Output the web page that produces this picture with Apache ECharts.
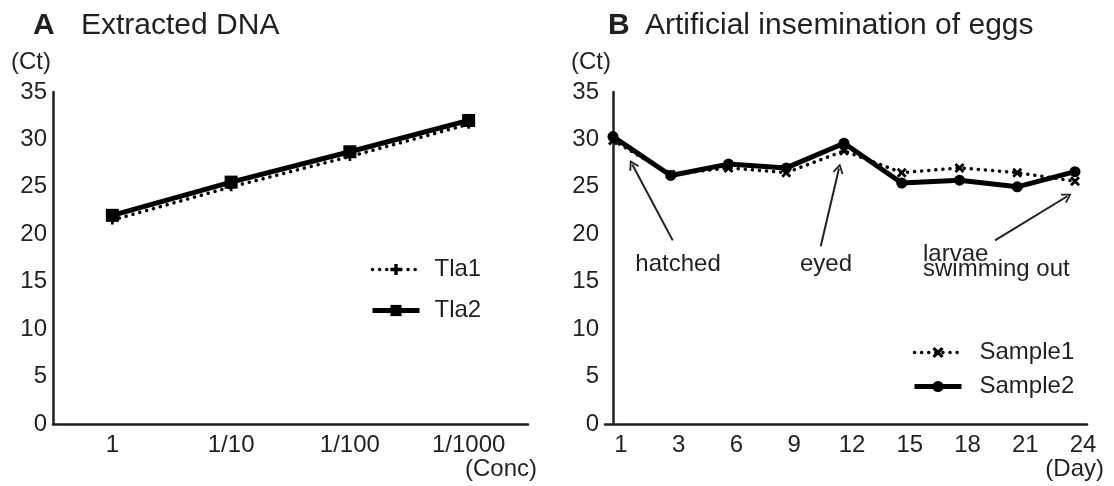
<!DOCTYPE html>
<html>
<head>
<meta charset="utf-8">
<script src="https://cdn.jsdelivr.net/npm/echarts@6/dist/echarts.min.js"></script>
<style>
html,body{margin:0;padding:0;background:#fff;}
#chart{width:1114px;height:486px;}
</style>
</head>
<body>
<div id="chart"></div>
<script>
// ---- data ----
const concLabels = ['1', '1/10', '1/100', '1/1000'];
const tla1 = [21.5, 25.0, 28.2, 31.6];
const tla2 = [22.0, 25.5, 28.7, 32.0];
const dayLabels = [1, 3, 6, 9, 12, 15, 18, 21, 24];
const sample1 = [29.9, 26.3, 27.0, 26.5, 28.8, 26.5, 27.0, 26.5, 25.6];
const sample2 = [30.3, 26.2, 27.4, 27.0, 29.6, 25.4, 25.7, 25.0, 26.6];
const ctTicks = [0, 5, 10, 15, 20, 25, 30, 35];
// annotation arrows: [tail, head] in (day index, Ct)
const arrows = [
  [[1.034, 19.36], [0.334, 27.36]],
  [[3.597, 18.73], [3.913, 26.94]],
  [[6.615, 19.36], [7.867, 24.01]]
];
const notes = [
  { name: 'hatched', coord: [1.126, 16.8], align: 'center' },
  { name: 'eyed', coord: [3.688, 16.8], align: 'center' },
  { name: 'larvae\nswimming out', coord: [5.368, 17.1], align: 'left' }
];

const TXT = '#231f20';
const FONT = '"Liberation Sans", Arial, Helvetica, sans-serif';
const FS = 24;
const chevron = 'path://M5,0 L10,9 L8.5,9.9 L5,3.3 L1.5,9.9 L0,9 Z';
const xMark = 'path://M0,2 L2,0 L5,3 L8,0 L10,2 L7,5 L10,8 L8,10 L5,7 L2,10 L0,8 L3,5 Z';
const plusMark = 'path://M3.5,0 H6.5 V3.5 H10 V6.5 H6.5 V10 H3.5 V6.5 H0 V3.5 H3.5 Z';

const chart = echarts.init(document.getElementById('chart'), null, { renderer: 'canvas' });

const yAxisCommon = {
  type: 'value', min: ctTicks[0], max: ctTicks[ctTicks.length - 1], interval: 5,
  name: '(Ct)', nameLocation: 'end', nameGap: 18,
  nameTextStyle: { color: TXT, fontSize: FS, fontFamily: FONT, align: 'right', padding: [0, 2, 0, 0] },
  axisLine: { show: true, lineStyle: { color: TXT, width: 2.5 } },
  axisTick: { show: false },
  splitLine: { show: false },
  axisLabel: { color: TXT, fontSize: FS, fontFamily: FONT, margin: 6 }
};

const legendCommon = {
  orient: 'vertical', padding: 0, itemWidth: 47, itemHeight: 14,
  lineStyle: { width: 'inherit', type: 'inherit', cap: 'inherit' }
};

const option = {
  animation: false,
  backgroundColor: '#fff',
  textStyle: { fontFamily: FONT },
  title: [
    { text: 'A', left: 28, top: 6, textStyle: { fontSize: 30, fontWeight: 'bold', color: TXT, fontFamily: FONT } },
    { text: 'Extracted DNA', left: 76, top: 6, textStyle: { fontSize: 30, fontWeight: 'normal', color: TXT, fontFamily: FONT } },
    { text: 'B', left: 603, top: 6, textStyle: { fontSize: 30, fontWeight: 'bold', color: TXT, fontFamily: FONT } },
    { text: 'Artificial insemination of eggs', left: 640, top: 6, textStyle: { fontSize: 30, fontWeight: 'normal', color: TXT, fontFamily: FONT } }
  ],
  grid: [
    { left: 53, right: 586, top: 92, bottom: 62 },
    { left: 605, right: 27, top: 92, bottom: 62 }
  ],
  xAxis: [
    {
      gridIndex: 0, type: 'category', data: concLabels, boundaryGap: true,
      name: '(Conc)', nameLocation: 'end', nameGap: 9,
      nameTextStyle: { color: TXT, fontSize: FS, fontFamily: FONT, align: 'right', verticalAlign: 'top', padding: [33, 0, 0, 0] },
      axisLine: { show: true, lineStyle: { color: TXT, width: 2.5 } },
      axisTick: { show: false },
      axisLabel: { color: TXT, fontSize: FS, fontFamily: FONT, margin: 9 }
    },
    {
      gridIndex: 1, type: 'value', min: -0.1385, max: 8.2078,
      name: '(Day)', nameLocation: 'end', nameGap: 17,
      nameTextStyle: { color: TXT, fontSize: FS, fontFamily: FONT, align: 'right', verticalAlign: 'top', padding: [33, 0, 0, 0] },
      axisLine: { show: true, onZero: false, lineStyle: { color: TXT, width: 2.5 } },
      axisTick: { show: false },
      splitLine: { show: false },
      axisLabel: {
        color: TXT, fontSize: FS, fontFamily: FONT, margin: 9,
        customValues: dayLabels.map((d, i) => i),
        formatter: v => dayLabels[Math.round(v)],
        padding: [0, 0, 0, 16]
      }
    }
  ],
  yAxis: [
    Object.assign({ gridIndex: 0 }, yAxisCommon),
    Object.assign({ gridIndex: 1 }, yAxisCommon)
  ],
  legend: [
    Object.assign({
      data: ['Tla1', 'Tla2'], left: 370, top: 257, itemGap: 16,
      textStyle: { color: TXT, fontSize: FS, fontFamily: FONT, lineHeight: 25, padding: [0, 0, 0, 10] }
    }, legendCommon),
    Object.assign({
      data: ['Sample1', 'Sample2'], left: 912, top: 340, itemGap: 9,
      textStyle: { color: TXT, fontSize: FS, fontFamily: FONT, lineHeight: 25, padding: [0, 0, 0, 13] }
    }, legendCommon)
  ],
  series: [
    {
      name: 'Tla1', type: 'line', xAxisIndex: 0, yAxisIndex: 0, data: tla1,
      symbol: plusMark, symbolSize: 9, z: 3,
      itemStyle: { color: '#000' },
      lineStyle: { color: '#000', width: 3.5, type: [0.1, 7], cap: 'round' }
    },
    {
      name: 'Tla2', type: 'line', xAxisIndex: 0, yAxisIndex: 0, data: tla2,
      symbol: 'rect', symbolSize: 13, z: 4,
      itemStyle: { color: '#000' },
      lineStyle: { color: '#000', width: 5 }
    },
    {
      name: 'Sample1', type: 'line', xAxisIndex: 1, yAxisIndex: 1,
      data: sample1.map((v, i) => [i, v]),
      symbol: xMark, symbolSize: 10, z: 3,
      itemStyle: { color: '#000' },
      lineStyle: { color: '#000', width: 3.5, type: [0.1, 7], cap: 'round' }
    },
    {
      name: 'Sample2', type: 'line', xAxisIndex: 1, yAxisIndex: 1,
      data: sample2.map((v, i) => [i, v]),
      symbol: 'circle', symbolSize: 11, z: 4,
      itemStyle: { color: '#000' },
      lineStyle: { color: '#000', width: 5 },
      markLine: {
        silent: true, animation: false,
        symbol: ['none', chevron], symbolSize: [11, 10],
        label: { show: false },
        lineStyle: { color: TXT, width: 2, type: 'solid' },
        emphasis: { disabled: true },
        data: arrows.map(a => [{ coord: a[0] }, { coord: a[1] }])
      },
      markPoint: {
        silent: true, animation: false,
        symbol: 'circle', symbolSize: 0,
        itemStyle: { color: 'rgba(0,0,0,0)' },
        data: notes.map(n => ({
          name: n.name, coord: n.coord,
          label: { show: true, position: 'inside', formatter: '{b}', color: TXT, fontSize: FS, fontFamily: FONT, lineHeight: 15, align: n.align }
        }))
      }
    }
  ]
};
chart.setOption(option);
</script>
</body>
</html>
